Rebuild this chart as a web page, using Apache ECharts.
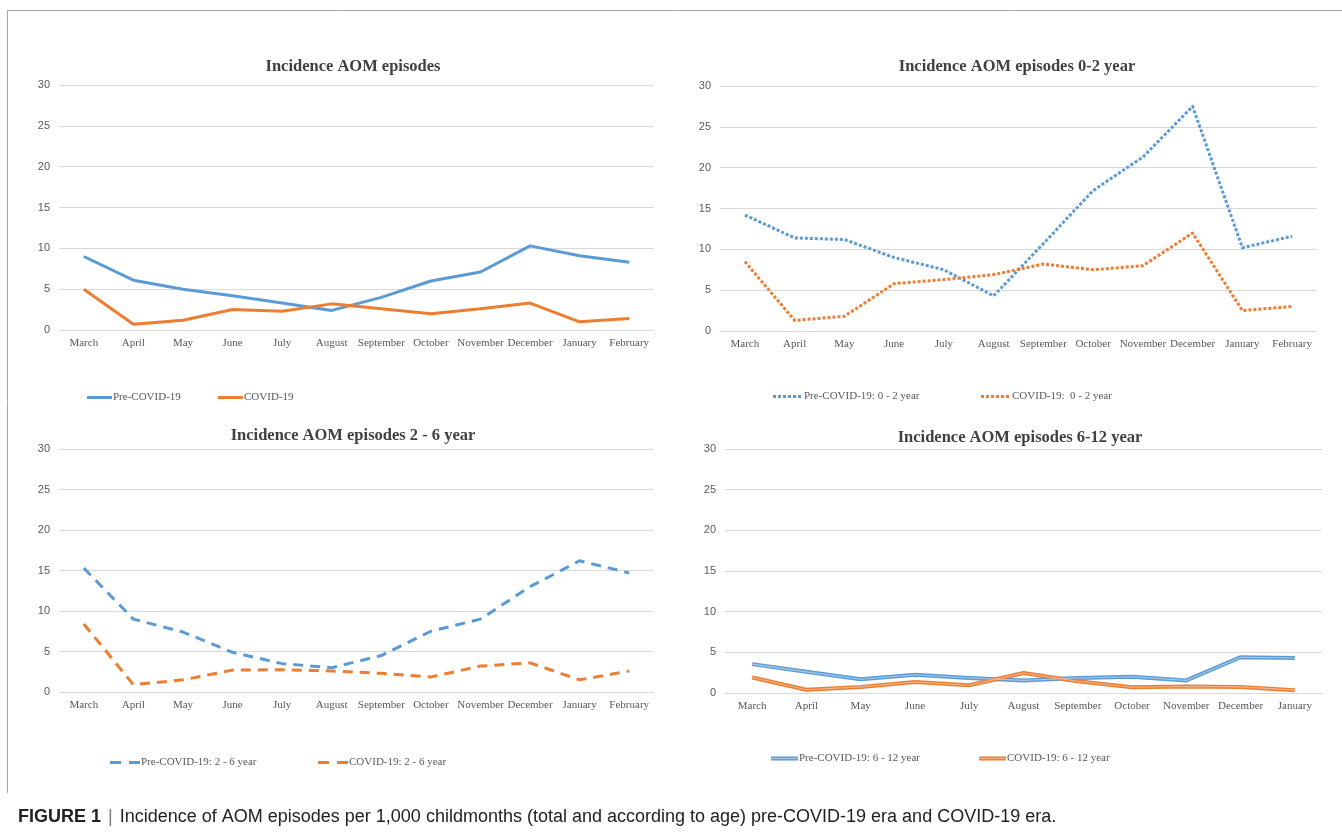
<!DOCTYPE html>
<html>
<head>
<meta charset="utf-8">
<script src="https://cdn.jsdelivr.net/npm/echarts@6/dist/echarts.min.js"></script>
<style>
  html, body { margin: 0; padding: 0; background: #fff; }
  #chart { width: 1342px; height: 833px; }
</style>
</head>
<body>
<div id="chart"></div>
<script>
// Month categories (study year runs March to February)
const monthsFull = ['March', 'April', 'May', 'June', 'July', 'August', 'September', 'October', 'November', 'December', 'January', 'February'];
const monthsTo = ['March', 'April', 'May', 'June', 'July', 'August', 'September', 'October', 'November', 'December', 'January'];

// Incidence per 1,000 childmonths — all ages
const preAll = [9.0, 6.1, 5.0, 4.2, 3.3, 2.4, 4.0, 6.0, 7.1, 10.3, 9.1, 8.3];
const covAll = [5.0, 0.7, 1.2, 2.5, 2.3, 3.2, 2.6, 2.0, 2.6, 3.3, 1.0, 1.4];

// 0–2 year
const pre02 = [14.2, 11.4, 11.2, 9.0, 7.5, 4.3, 10.7, 17.2, 21.3, 27.5, 10.2, 11.6];
const cov02 = [8.5, 1.3, 1.8, 5.8, 6.3, 6.9, 8.2, 7.5, 8.0, 12.0, 2.5, 3.0];

// 2–6 year
const pre26 = [15.3, 9.0, 7.4, 4.9, 3.5, 3.0, 4.5, 7.5, 9.0, 13.0, 16.2, 14.7];
const cov26 = [8.4, 0.9, 1.5, 2.7, 2.75, 2.6, 2.3, 1.85, 3.2, 3.6, 1.5, 2.6];

// 6–12 year
const pre612 = [3.55, 2.6, 1.7, 2.25, 1.85, 1.55, 1.85, 2.0, 1.55, 4.4, 4.3];
const cov612 = [1.9, 0.4, 0.75, 1.35, 0.95, 2.45, 1.45, 0.7, 0.8, 0.75, 0.35];

const yTicks = { min: 0, max: 30, interval: 5 };

const BLUE = '#5b9bd5';
const ORANGE = '#ed7d31';
const BLUE_IN = '#a9c8ea';
const ORANGE_IN = '#f6b68c';
const TXT = '#595959';
const GRID = '#d9d9d9';
const SERIF = '"Liberation Serif", "Times New Roman", serif';
const SANS = '"Liberation Sans", Arial, sans-serif';

const grids = [
  { left: 59, right: 688, top: 85, bottom: 503 },
  { left: 720, right: 25, top: 86, bottom: 502 },
  { left: 59, right: 688, top: 449, bottom: 141 },
  { left: 725, right: 20, top: 449, bottom: 140 }
];

function xAxis(i, cats) {
  return {
    type: 'category', gridIndex: i, data: cats, boundaryGap: true,
    axisTick: { show: false },
    axisLine: { lineStyle: { color: GRID, width: 1 } },
    axisLabel: { interval: 0, color: TXT, fontFamily: SERIF, fontSize: 11, margin: 8 }
  };
}
function yAxis(i) {
  return {
    type: 'value', gridIndex: i, min: yTicks.min, max: yTicks.max, interval: yTicks.interval,
    axisLine: { show: false }, axisTick: { show: false },
    splitLine: { lineStyle: { color: GRID, width: 1.2 } },
    axisLabel: { color: TXT, fontFamily: SANS, fontSize: 11, margin: 9 }
  };
}
function line(name, i, data, color, width, type) {
  return {
    name, type: 'line', xAxisIndex: i, yAxisIndex: i, data,
    symbol: 'none', smooth: false, z: 2,
    lineStyle: { color, width, type: type || 'solid', cap: 'butt', join: 'round' },
    itemStyle: { color }
  };
}
function innerLine(name, i, data, color) {
  return {
    name, type: 'line', xAxisIndex: i, yAxisIndex: i, data,
    symbol: 'none', z: 3, silent: true,
    lineStyle: { color, width: 1.1, join: 'round' }
  };
}
function titleAt(text, x, y) {
  return {
    text, left: x, top: y, textAlign: 'center',
    textStyle: { fontFamily: SERIF, fontWeight: 'bold', fontSize: 16.5, color: '#404040' }
  };
}

// Legend swatches drawn as small inline SVG images
function svgIcon(w, body) {
  const svg = '<svg xmlns="http://www.w3.org/2000/svg" width="' + w + '" height="10">' + body + '</svg>';
  return 'image://data:image/svg+xml;charset=utf-8,' + encodeURIComponent(svg);
}
function strokeIcon(w, color, dash) {
  return svgIcon(w, '<line x1="0" y1="5" x2="' + w + '" y2="5" stroke="' + color +
    '" stroke-width="3"' + (dash ? ' stroke-dasharray="' + dash + '"' : '') + '/>');
}
function doubleIcon(w, outer, inner) {
  return svgIcon(w, '<rect x="0" y="3" width="' + w + '" height="4" fill="' + outer + '"/>' +
    '<rect x="0" y="4.45" width="' + w + '" height="1.1" fill="' + inner + '"/>');
}
function legendAt(name, x, y, w, icon) {
  return {
    data: [{ name, icon }], left: x, top: y, itemWidth: w, itemHeight: 10, itemGap: 0,
    selectedMode: false,
    textStyle: { fontFamily: SERIF, fontSize: 11, color: TXT, padding: [0, 0, 0, -4] }
  };
}

const option = {
  backgroundColor: '#ffffff',
  animation: false,
  title: [
    titleAt('Incidence AOM episodes', 348, 53),
    titleAt('Incidence AOM episodes 0-2 year', 1012, 53),
    titleAt('Incidence AOM episodes 2 - 6 year', 348, 422),
    titleAt('Incidence AOM episodes 6-12 year', 1015, 424)
  ],
  grid: grids,
  xAxis: [xAxis(0, monthsFull), xAxis(1, monthsFull), xAxis(2, monthsFull), xAxis(3, monthsTo)],
  yAxis: [yAxis(0), yAxis(1), yAxis(2), yAxis(3)],
  legend: [
    legendAt('Pre-COVID-19', 82, 387, 25, strokeIcon(25, BLUE)),
    legendAt('COVID-19', 213, 387, 25, strokeIcon(25, ORANGE)),
    legendAt('Pre-COVID-19: 0 - 2 year', 768, 386, 30, strokeIcon(30, BLUE, '3,2')),
    legendAt('COVID-19:  0 - 2 year', 976, 386, 30, strokeIcon(30, ORANGE, '3,2')),
    legendAt('Pre-COVID-19: 2 - 6 year', 105, 752, 30, strokeIcon(30, BLUE, '11,8')),
    legendAt('COVID-19: 2 - 6 year', 313, 752, 30, strokeIcon(30, ORANGE, '11,8')),
    legendAt('Pre-COVID-19: 6 - 12 year', 766, 748, 27, doubleIcon(27, BLUE, BLUE_IN)),
    legendAt('COVID-19: 6 - 12 year', 974, 748, 27, doubleIcon(27, ORANGE, ORANGE_IN))
  ],
  series: [
    line('Pre-COVID-19', 0, preAll, BLUE, 3),
    line('COVID-19', 0, covAll, ORANGE, 3),
    line('Pre-COVID-19: 0 - 2 year', 1, pre02, BLUE, 3, [3, 2]),
    line('COVID-19:  0 - 2 year', 1, cov02, ORANGE, 3, [3, 2]),
    line('Pre-COVID-19: 2 - 6 year', 2, pre26, BLUE, 3, [10, 7]),
    line('COVID-19: 2 - 6 year', 2, cov26, ORANGE, 3, [10, 7]),
    line('Pre-COVID-19: 6 - 12 year', 3, pre612, BLUE, 4),
    innerLine('pre612-inner', 3, pre612, BLUE_IN),
    line('COVID-19: 6 - 12 year', 3, cov612, ORANGE, 4),
    innerLine('cov612-inner', 3, cov612, ORANGE_IN)
  ],
  graphic: [
    { type: 'line', silent: true, shape: { x1: 7, y1: 10.5, x2: 1342, y2: 10.5 }, style: { stroke: '#a6a6a6', lineWidth: 1 } },
    { type: 'line', silent: true, shape: { x1: 7.5, y1: 10, x2: 7.5, y2: 793 }, style: { stroke: '#a6a6a6', lineWidth: 1 } },
    {
      type: 'text', left: 18, top: 808, silent: true,
      style: {
        text: '{b|FIGURE 1} {s||} Incidence of AOM episodes per 1,000 childmonths (total and according to age) pre-COVID-19 era and COVID-19 era.',
        fontFamily: SANS, fontSize: 18, fill: '#222222',
        rich: {
          b: { fontFamily: SANS, fontSize: 18, fontWeight: 'bold', fill: '#222222' },
          s: { fontFamily: SANS, fontSize: 18, fill: '#777777', padding: [0, 2, 0, 2] }
        }
      }
    }
  ]
};

const chart = echarts.init(document.getElementById('chart'), null, { renderer: 'canvas' });
chart.setOption(option);
</script>
</body>
</html>
